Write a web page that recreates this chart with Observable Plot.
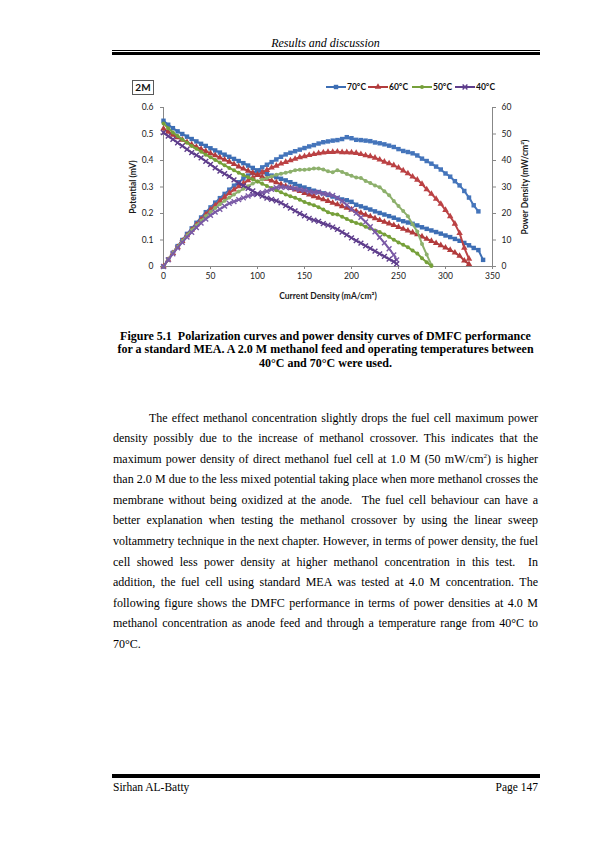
<!DOCTYPE html>
<html><head><meta charset="utf-8">
<script src="https://cdn.jsdelivr.net/npm/d3@7"></script>
<script src="https://cdn.jsdelivr.net/npm/@observablehq/plot@0.6"></script>
<style>
html,body{margin:0;padding:0;background:#fff;}
#page{position:relative;width:595px;height:842px;overflow:hidden;background:#fff;}
.abs{position:absolute;}
.serif{font-family:"Liberation Serif","Times New Roman",serif;color:#000;}
#hdr{left:113px;width:425px;top:36.5px;font-size:12px;line-height:12px;font-style:italic;text-align:center;}
.rule{position:absolute;left:112px;width:428px;background:#000;}
#cap{left:113px;width:425px;top:329.5px;font-size:12px;line-height:13.8px;font-weight:bold;text-align:center;}
#body{left:113px;width:425px;top:407.7px;font-size:12px;}
.ln{height:20.55px;line-height:20.55px;text-align:justify;text-align-last:justify;white-space:nowrap;}
.ln.last{text-align:left;text-align-last:left;}
.ln sup{font-size:7px;line-height:0;vertical-align:baseline;position:relative;top:-5px;}
#foot1{left:113px;top:780px;font-size:11.5px;line-height:14px;}
#foot2{right:57px;top:780px;font-size:11.5px;line-height:14px;}
#chart{left:100px;top:97px;}
#tag{left:132px;top:80px;width:20px;height:13px;border:1px solid #595959;font:bold 10px Lato,sans-serif;line-height:13px;text-align:center;color:#111;}
.leg{position:absolute;top:82px;height:10px;display:flex;align-items:center;font:bold 8.5px Lato,sans-serif;color:#111;}
.leg svg{display:block;margin-right:1px;}
#chart svg text{fill:#1a1a1a;}
#chart g[aria-label$="axis label"] text{font-weight:bold;}
</style>
</head><body>
<div id="page">
  <div id="hdr" class="abs serif">Results and discussion</div>
  <div class="rule" style="top:50px;height:1px;"></div>
  <div class="rule" style="top:52px;height:2.6px;"></div>

  <div id="tag" class="abs">2M</div>
  <div id="legend"></div>
  <div id="chart" class="abs"></div>

  <div id="cap" class="abs serif">Figure 5.1&nbsp; Polarization curves and power density curves of DMFC performance<br>for a standard MEA. A 2.0 M methanol feed and operating temperatures between<br>40°C and 70°C were used.</div>

  <div id="body" class="abs serif"></div>

  <div class="rule" style="top:773.5px;height:1px;"></div>
  <div class="rule" style="top:775.3px;height:2.6px;"></div>
  <div id="foot1" class="abs serif">Sirhan AL-Batty</div>
  <div id="foot2" class="abs serif">Page 147</div>
</div>
<script>
// ---------------- data ----------------
const temperatures = ["70°C", "60°C", "50°C", "40°C"];

const current70 = [0,5,10,15,20,25,30,35,40,45,50,55,60,65,70,75,80,85,90,95,100,105,110,115,120,125,130,135,140,145,150,155,160,165,170,175,180,185,190,195,200,205,210,215,220,225,230,235,240,245,250,255,260,265,270,275,280,285,290,295,300,305,310,315,320,325,330,335,340];
const potential70 = [0.550,0.535,0.522,0.510,0.500,0.490,0.481,0.472,0.463,0.455,0.446,0.438,0.430,0.422,0.414,0.406,0.398,0.390,0.381,0.372,0.362,0.356,0.349,0.343,0.337,0.331,0.325,0.318,0.311,0.304,0.298,0.292,0.286,0.281,0.276,0.270,0.264,0.258,0.253,0.250,0.244,0.233,0.227,0.221,0.215,0.208,0.202,0.196,0.190,0.184,0.177,0.171,0.166,0.161,0.155,0.148,0.142,0.136,0.130,0.124,0.117,0.111,0.104,0.097,0.089,0.080,0.070,0.062,0.025];
const power70 = [0,2.7,5.2,7.7,10.0,12.3,14.4,16.5,18.5,20.5,22.3,24.1,25.8,27.4,29.0,30.5,31.8,33.2,34.3,35.3,36.2,37.4,38.4,39.4,40.4,41.4,42.3,42.9,43.5,44.1,44.7,45.3,45.8,46.4,46.9,47.2,47.5,47.7,48.1,48.8,48.4,47.8,47.7,47.5,47.3,46.8,46.5,46.1,45.6,45.1,44.3,43.6,43.2,42.7,41.9,40.7,39.8,38.8,37.7,36.6,35.1,33.9,32.2,30.6,28.5,26.0,23.1,20.8];

const current60 = [0,5,10,15,20,25,30,35,40,45,50,55,60,65,70,75,80,85,90,95,100,105,110,115,120,125,130,135,140,145,150,155,160,165,170,175,180,185,190,195,200,205,210,215,220,225,230,235,240,245,250,255,260,265,270,275,280,285,290,295,300,305,310,315,320,325];
const potential60 = [0.520,0.508,0.497,0.487,0.478,0.469,0.460,0.451,0.443,0.435,0.427,0.419,0.411,0.403,0.395,0.386,0.377,0.369,0.361,0.353,0.345,0.338,0.331,0.324,0.317,0.310,0.303,0.296,0.290,0.284,0.277,0.271,0.265,0.259,0.253,0.247,0.240,0.234,0.227,0.221,0.215,0.209,0.202,0.195,0.189,0.182,0.175,0.168,0.162,0.156,0.149,0.142,0.135,0.128,0.121,0.113,0.104,0.096,0.088,0.080,0.071,0.062,0.052,0.040,0.022,0.009];
const power60 = [0,2.5,5.0,7.3,9.6,11.7,13.8,15.8,17.7,19.6,21.4,23.0,24.7,26.2,27.7,29.0,30.2,31.4,32.5,33.5,34.5,35.5,36.4,37.3,38.0,38.8,39.4,40.0,40.6,41.2,41.6,42.0,42.4,42.7,43.0,43.2,43.2,43.3,43.1,43.1,43.0,42.8,42.4,41.9,41.6,41.0,40.3,39.5,38.9,38.2,37.3,36.2,35.1,33.9,32.7,31.1,29.1,27.4,25.5,23.6,21.3,18.9,16.1,12.6,7.0,2.9];

const current50 = [0,5,10,15,20,25,30,35,40,45,50,55,60,65,70,75,80,85,90,95,100,105,110,115,120,125,130,135,140,145,150,155,160,165,170,175,180,185,190,195,200,205,210,215,220,225,230,235,240,245,250,255,260,265,270,275,280,285];
const potential50 = [0.540,0.522,0.506,0.492,0.479,0.467,0.455,0.444,0.433,0.422,0.412,0.402,0.392,0.382,0.372,0.363,0.354,0.345,0.337,0.329,0.321,0.312,0.304,0.296,0.288,0.280,0.272,0.265,0.259,0.252,0.243,0.237,0.231,0.224,0.215,0.205,0.198,0.196,0.188,0.179,0.171,0.164,0.159,0.150,0.143,0.136,0.130,0.121,0.112,0.101,0.091,0.082,0.073,0.060,0.049,0.031,0.016,0.002];
const power50 = [0,2.6,5.1,7.4,9.6,11.7,13.7,15.5,17.3,19.0,20.6,22.1,23.5,24.8,26.0,27.2,28.3,29.3,30.3,31.3,32.1,32.8,33.4,34.0,34.6,35.0,35.4,35.8,36.3,36.5,36.5,36.7,37.0,37.0,36.6,35.9,35.6,36.3,35.7,34.9,34.2,33.6,33.4,32.3,31.5,30.6,29.9,28.4,26.9,24.7,22.8,20.9,19.0,15.9,13.2,8.5,4.5,0.6];

const current40 = [0,5,10,15,20,25,30,35,40,45,50,55,60,65,70,75,80,85,90,95,100,105,110,115,120,125,130,135,140,145,150,155,160,165,170,175,180,185,190,195,200,205,210,215,220,225,230,235,240,245,248];
const potential40 = [0.505,0.492,0.480,0.467,0.455,0.442,0.430,0.420,0.410,0.397,0.385,0.372,0.360,0.350,0.340,0.327,0.315,0.305,0.295,0.285,0.274,0.266,0.258,0.253,0.248,0.240,0.230,0.220,0.210,0.200,0.191,0.182,0.175,0.170,0.162,0.156,0.149,0.140,0.130,0.119,0.108,0.098,0.088,0.078,0.068,0.058,0.048,0.038,0.028,0.018,0.010];
const power40 = [0,2.5,4.8,7.0,9.1,11.1,12.9,14.7,16.4,17.9,19.3,20.5,21.6,22.8,23.8,24.5,25.2,25.9,26.6,27.1,27.4,27.9,28.4,29.1,29.8,30.0,29.9,29.7,29.4,29.0,28.7,28.2,28.0,28.1,27.5,27.3,26.8,25.9,24.7,23.2,21.6,20.1,18.5,16.8,15.0,13.1,11.0,8.9,6.7,4.4,2.5];

const xTicks = [0,50,100,150,200,250,300,350];
const potentialTicks = [0,0.1,0.2,0.3,0.4,0.5,0.6];
const powerTicks = [0,10,20,30,40,50,60];

const bodyLines = [
  "The effect methanol concentration slightly drops the fuel cell maximum power",
  "density possibly due to the increase of methanol crossover. This indicates that the",
  "maximum power density of direct methanol fuel cell at 1.0 M (50 mW/cm<sup>2</sup>) is higher",
  "than 2.0 M due to the less mixed potential taking place when more methanol crosses the",
  "membrane without being oxidized at the anode.&nbsp; The fuel cell behaviour can have a",
  "better explanation when testing the methanol crossover by using the linear sweep",
  "voltammetry technique in the next chapter. However, in terms of power density, the fuel",
  "cell showed less power density at higher methanol concentration in this test.&nbsp; In",
  "addition, the fuel cell using standard MEA was tested at 4.0 M concentration. The",
  "following figure shows the DMFC performance in terms of power densities at 4.0 M",
  "methanol concentration as anode feed and through a temperature range from 40°C to",
  "70°C."
];

// ---------------- styling (not data) ----------------
const seriesStyle = [
  {color: "#3D6EB4", powColor: "#4575BB", symbol: "square", r: 2.5},
  {color: "#B23B3C", powColor: "#BB4244", symbol: "triangle", r: 2.4},
  {color: "#76A03A", powColor: "#8DB06C", symbol: "circle", r: 2.0},
  {color: "#5E3D8C", powColor: "#7A5AA6", symbol: "times", r: 2.3}
];

const seriesData = [
  {current: current70, potential: potential70, power: power70},
  {current: current60, potential: potential60, power: power60},
  {current: current50, potential: potential50, power: power50},
  {current: current40, potential: potential40, power: power40}
];

// ---------------- body text ----------------
const bodyEl = document.getElementById("body");
bodyLines.forEach((t, i) => {
  const d = document.createElement("div");
  d.className = "ln" + (i === bodyLines.length - 1 ? " last" : "");
  if (i === 0) d.style.paddingLeft = "36px";
  d.innerHTML = t;
  bodyEl.appendChild(d);
});

// ---------------- legend ----------------
const legendLefts = [326, 368, 412, 455];
const legEl = document.getElementById("legend");
temperatures.forEach((name, i) => {
  const st = seriesStyle[i];
  const item = document.createElement("div");
  item.className = "leg";
  item.style.left = legendLefts[i] + "px";
  const svg = d3.create("svg").attr("width", 20).attr("height", 10);
  svg.append("line").attr("x1", 0).attr("x2", 20).attr("y1", 5).attr("y2", 5)
    .attr("stroke", st.color).attr("stroke-width", 2);
  const symMap = {square: d3.symbolSquare, triangle: d3.symbolTriangle, circle: d3.symbolCircle, times: d3.symbolTimes};
  const path = svg.append("path").attr("transform", "translate(10,5)")
    .attr("d", d3.symbol(symMap[st.symbol], Math.PI * st.r * st.r)());
  if (st.symbol === "times") path.attr("fill", "none").attr("stroke", st.color).attr("stroke-width", 1.4);
  else path.attr("fill", st.color);
  item.appendChild(svg.node());
  const span = document.createElement("span");
  span.textContent = name;
  item.appendChild(span);
  legEl.appendChild(item);
});

// ---------------- chart ----------------
function dotMark(rows, st, color) {
  if (st.symbol === "times") {
    return Plot.dot(rows, {x: "x", y: "y", symbol: "times", r: st.r, stroke: color, strokeWidth: 1.4, fill: "none"});
  }
  return Plot.dot(rows, {x: "x", y: "y", symbol: st.symbol, r: st.r, fill: color, stroke: "none"});
}

const marks = [];
seriesData.forEach((s, i) => {
  const st = seriesStyle[i];
  const pow = s.power.map((p, k) => ({x: s.current[k], y: p / 100}));
  const pot = s.potential.map((v, k) => ({x: s.current[k], y: v}));
  marks.push(Plot.line(pow, {x: "x", y: "y", stroke: st.powColor, strokeWidth: 2}));
  marks.push(dotMark(pow, st, st.powColor));
  marks.push(Plot.line(pot, {x: "x", y: "y", stroke: st.color, strokeWidth: 2}));
  marks.push(dotMark(pot, st, st.color));
});

const axisGray = "#878787";
const chart = Plot.plot({
  width: 440,
  height: 210,
  marginLeft: 63,
  marginRight: 48,
  marginTop: 10,
  marginBottom: 41,
  style: {fontFamily: "Lato, sans-serif", fontSize: "8.5px", background: "transparent", overflow: "visible"},
  x: {domain: [0, 350]},
  y: {domain: [0, 0.6]},
  marks: [
    Plot.ruleY([0], {stroke: axisGray}),
    Plot.ruleX([0], {stroke: axisGray}),
    Plot.ruleX([350], {stroke: axisGray}),
    Plot.axisX(xTicks, {tickSize: 3, tickPadding: 3, stroke: axisGray, fill: "#1a1a1a",
      label: "Current Density (mA/cm²)", labelAnchor: "center", labelArrow: "none", labelOffset: 32}),
    Plot.axisY(potentialTicks, {anchor: "left", tickSize: 3, tickPadding: 7, stroke: axisGray, fill: "#1a1a1a",
      tickFormat: d => d === 0 ? "0" : d3.format(".1f")(d),
      label: "Potential (mV)", labelAnchor: "center", labelArrow: "none", labelOffset: 34}),
    Plot.axisY(powerTicks.map(p => p / 100), {anchor: "right", tickSize: 3, tickPadding: 6, stroke: axisGray, fill: "#1a1a1a",
      tickFormat: d => String(Math.round(d * 100)),
      label: "Power Density (mW/cm²)", labelAnchor: "center", labelArrow: "none", labelOffset: 35}),
    ...marks
  ]
});
document.getElementById("chart").appendChild(chart);
</script>
</body></html>
